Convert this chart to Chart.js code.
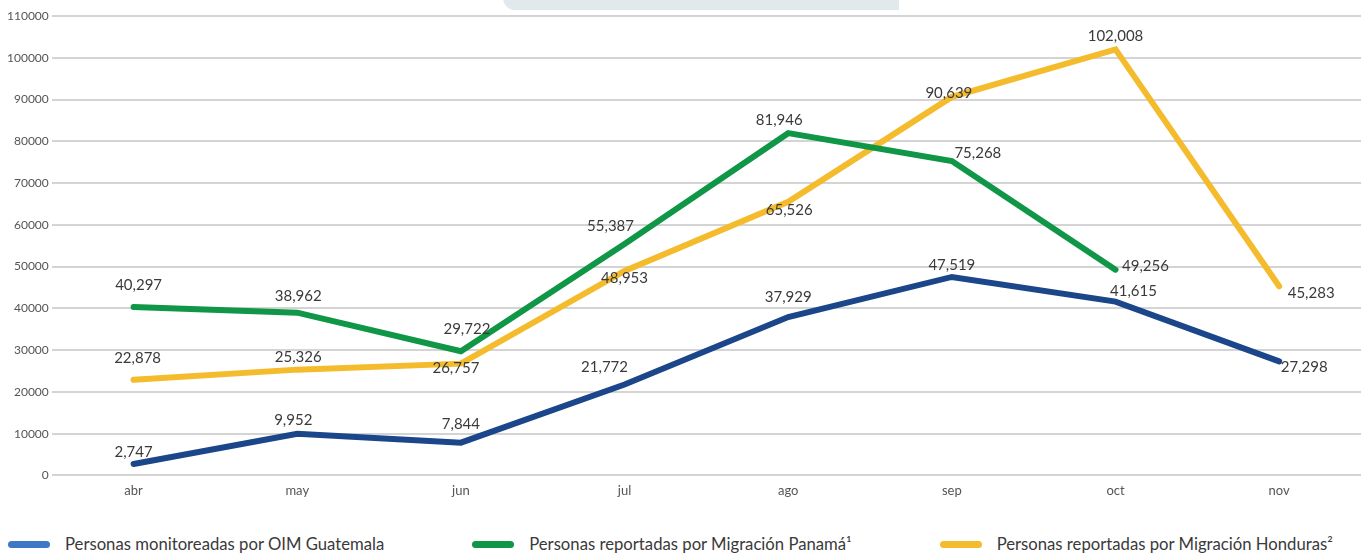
<!DOCTYPE html>
<html>
<head>
<meta charset="utf-8">
<script src="https://cdn.jsdelivr.net/npm/chart.js@4.4.0/dist/chart.umd.min.js"></script>
<style>
  body { margin: 0; background: #fff; font-family: Lato, sans-serif; }
  #wrap { position: relative; width: 1361px; height: 555px; }
  #chart { position: absolute; left: 0; top: 0; }
  #legend { position: absolute; left: 8px; top: 534px; display: flex; gap: 88px; align-items: center; }
  .item { display: flex; align-items: center; font-size: 16.7px; color: #3a3a3a; white-space: nowrap; }
  .mark { width: 42px; height: 7px; border-radius: 4px; margin-right: 15px; }
</style>
</head>
<body>
<div id="wrap">
  <canvas id="chart" width="1361" height="510"></canvas>
  <div id="legend"></div>
</div>
<script>
var months = ['abr', 'may', 'jun', 'jul', 'ago', 'sep', 'oct', 'nov'];
var guatemala = [2747, 9952, 7844, 21772, 37929, 47519, 41615, 27298];
var panama = [40297, 38962, 29722, 55387, 81946, 75268, 49256, null];
var honduras = [22878, 25326, 26757, 48953, 65526, 90639, 102008, 45283];

// where each value label sits relative to its point [dx, dy]
var offGuatemala = [[0,-12], [-4,-14], [0,-18], [-20,-17], [0,-20], [0,-12], [18,-10], [25,6]];
var offPanama = [[5,-22], [1,-17], [6,-22], [-14,-18], [-9,-13], [26,-8], [30,-4], null];
var offHonduras = [[4,-22], [1,-12], [-5,5], [0,7], [1,8], [-3,-4], [0,-13], [32,7]];

var legendColors = ['#3d77c6', '#0f9647', '#f4bb2c'];

var valueLabels = {
    id: 'valueLabels',
    afterDatasetsDraw: function(chart) {
        var ctx = chart.ctx;
        ctx.save();
        ctx.font = '15px Lato';
        ctx.fillStyle = '#3a3a3a';
        ctx.textAlign = 'center';
        ctx.textBaseline = 'middle';
        chart.data.datasets.forEach(function(ds, i) {
            var meta = chart.getDatasetMeta(i);
            meta.data.forEach(function(pt, j) {
                var v = ds.data[j];
                if (v == null) return;
                var off = ds.labelOffsets[j] || [0, -12];
                ctx.fillText(v.toLocaleString('en-US'), pt.x + off[0], pt.y + off[1]);
            });
        });
        ctx.restore();
    }
};

var topTab = {
    id: 'topTab',
    beforeDraw: function(chart) {
        var ctx = chart.ctx;
        ctx.save();
        ctx.fillStyle = '#e1e9ec';
        ctx.beginPath();
        ctx.roundRect(503, -12, 396, 22, [0, 0, 0, 12]);
        ctx.fill();
        ctx.restore();
    }
};

var ctx = document.getElementById('chart').getContext('2d');
var chart = new Chart(ctx, {
    type: 'line',
    data: {
        labels: months,
        datasets: [{
            label: 'Personas monitoreadas por OIM Guatemala',
            data: guatemala,
            borderColor: '#1b4689',
            labelOffsets: offGuatemala
        }, {
            label: 'Personas reportadas por Migración Panamá¹',
            data: panama,
            borderColor: '#0f9647',
            labelOffsets: offPanama
        }, {
            label: 'Personas reportadas por Migración Honduras²',
            data: honduras,
            borderColor: '#f4bb2c',
            labelOffsets: offHonduras
        }]
    },
    options: {
        responsive: false,
        animation: false,
        devicePixelRatio: 1,
        layout: { padding: { left: 4, right: 0, top: 16, bottom: 11 } },
        elements: {
            line: { borderWidth: 6, tension: 0, borderCapStyle: 'round', fill: false },
            point: { radius: 0, hoverRadius: 0 }
        },
        plugins: {
            legend: { display: false },
            tooltip: { enabled: false }
        },
        scales: {
            x: {
                offset: true,
                grid: { display: false },
                border: { display: false },
                ticks: { color: '#555', font: { family: 'Lato', size: 13 }, padding: 0 }
            },
            y: {
                min: 0,
                max: 110000,
                grid: { color: '#d4d4d4', lineWidth: 2, drawTicks: false },
                border: { display: false },
                ticks: {
                    stepSize: 10000,
                    color: '#555',
                    padding: 3,
                    font: { family: 'Lato', size: 12 },
                    callback: function(value) { return String(value); }
                }
            }
        }
    },
    plugins: [topTab, valueLabels]
});

var legend = document.getElementById('legend');
chart.data.datasets.forEach(function(ds, i) {
    var item = document.createElement('div');
    item.className = 'item';
    var mark = document.createElement('span');
    mark.className = 'mark';
    mark.style.background = legendColors[i];
    item.appendChild(mark);
    item.appendChild(document.createTextNode(ds.label));
    legend.appendChild(item);
});
</script>
</body>
</html>
